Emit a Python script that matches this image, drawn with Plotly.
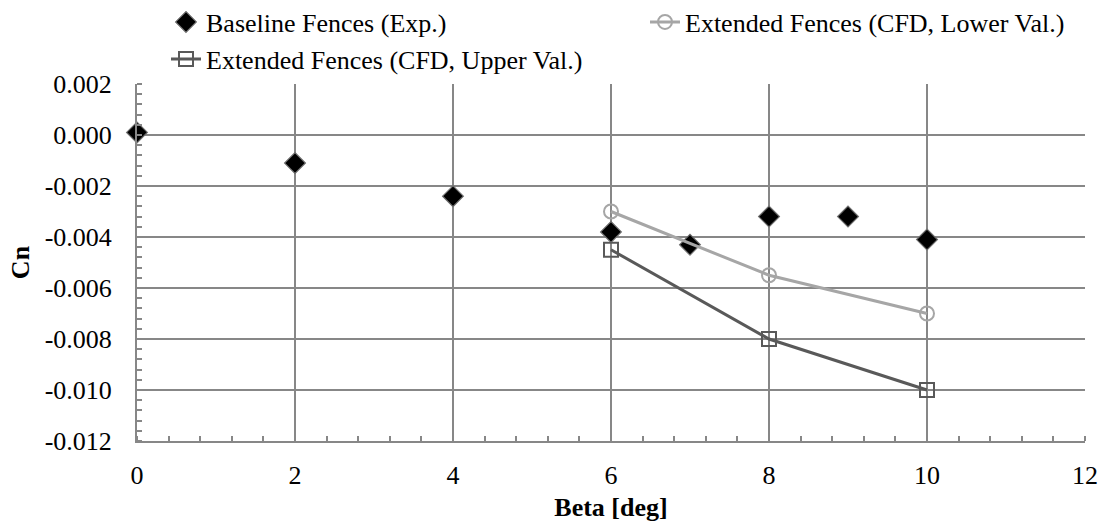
import plotly.graph_objects as go

beta_exp = [0, 2, 4, 6, 7, 8, 9, 10]
cn_exp = [0.0001, -0.0011, -0.0024, -0.0038, -0.0043, -0.0032, -0.0032, -0.0041]

beta_cfd = [6, 8, 10]
cn_lower = [-0.0030, -0.0055, -0.0070]
cn_upper = [-0.0045, -0.0080, -0.0100]

y_ticks = [0.002, 0.0, -0.002, -0.004, -0.006, -0.008, -0.010, -0.012]
y_ticktext = ["0.002", "0.000", "-0.002", "-0.004", "-0.006", "-0.008", "-0.010", "-0.012"]
x_ticks = [0, 2, 4, 6, 8, 10, 12]

FONT = "Times New Roman, Liberation Serif, serif"
GRID = "#878787"
FS = 26

fig = go.Figure()
fig.add_trace(go.Scatter(
    x=beta_exp, y=cn_exp, mode="markers", name="Baseline Fences (Exp.)",
    marker=dict(symbol="diamond", size=16, color="black", line=dict(color="#6e6e6e", width=1.2)),
    cliponaxis=False, legend="legend", showlegend=True))
fig.add_trace(go.Scatter(
    x=beta_cfd, y=cn_lower, mode="lines+markers", name="Extended Fences (CFD, Lower Val.)",
    line=dict(color="#a6a6a6", width=3),
    marker=dict(symbol="circle-open", size=14, color="#a6a6a6", line=dict(width=2)),
    cliponaxis=False, legend="legend2", showlegend=True))
fig.add_trace(go.Scatter(
    x=beta_cfd, y=cn_upper, mode="lines+markers", name="Extended Fences (CFD, Upper Val.)",
    line=dict(color="#595959", width=3),
    marker=dict(symbol="square-open", size=14, color="#595959", line=dict(width=2)),
    cliponaxis=False, legend="legend3", showlegend=True))

leg_common = dict(font=dict(family=FONT, size=FS, color="black"), bgcolor="rgba(0,0,0,0)",
                  xanchor="left", yanchor="middle", orientation="h", visible=True,
                  xref="container", yref="container")
fig.update_layout(
    width=1106, height=525,
    margin=dict(l=137, r=21, t=84, b=84, autoexpand=False),
    paper_bgcolor="white", plot_bgcolor="white",
    showlegend=True,
    font=dict(family=FONT, size=FS, color="black"),
    legend=dict(x=166 / 1106, y=1 - 22 / 525, **leg_common),
    legend2=dict(x=645 / 1106, y=1 - 22 / 525, **leg_common),
    legend3=dict(x=166 / 1106, y=1 - 59 / 525, **leg_common),
    xaxis=dict(range=[0, 12], tickvals=x_ticks, showgrid=True, gridcolor=GRID, gridwidth=1.5,
               showline=True, linecolor=GRID, linewidth=2, mirror=False, ticks="",
               zeroline=False, tickfont=dict(family=FONT, size=FS), ticklabelstandoff=10,
               minor=dict(ticks="inside", dtick=0.4, ticklen=5, tickcolor=GRID, tickwidth=1.5, showgrid=False),
               title=dict(text="<b>Beta [deg]</b>", font=dict(family=FONT, size=FS), standoff=9)),
    yaxis=dict(range=[-0.012, 0.002], tickvals=y_ticks, ticktext=y_ticktext, showgrid=True,
               gridcolor=GRID, gridwidth=1.5, showline=True, linecolor=GRID, linewidth=2,
               ticks="", zeroline=False, tickfont=dict(family=FONT, size=FS), ticklabelstandoff=18,
               minor=dict(ticks="inside", dtick=0.0004, ticklen=5, tickcolor=GRID, tickwidth=1.5, showgrid=False),
               title=dict(text="<b>Cn</b>", font=dict(family=FONT, size=FS), standoff=8)),
)
fig.write_html("out.html")
